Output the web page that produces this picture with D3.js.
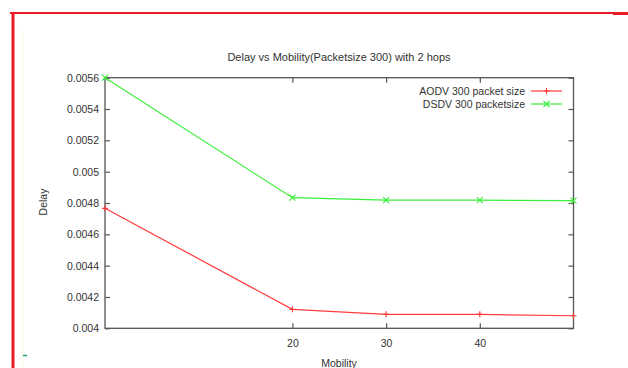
<!DOCTYPE html>
<html>
<head>
<meta charset="utf-8">
<script src="https://cdn.jsdelivr.net/npm/d3@7"></script>
<style>
  html, body { margin: 0; padding: 0; background: #fff; }
  svg { display: block; }
  text { font-family: "Liberation Sans", Arial, sans-serif; fill: #333; }
</style>
</head>
<body>
<svg id="chart" width="628" height="368"></svg>
<script>
// Mobility values (x) and average delay per protocol
const mobility = [0, 20, 30, 40, 50];
const aodvDelay = [0.004766, 0.004121, 0.004089, 0.004089, 0.00408];
const dsdvDelay = [0.0056, 0.004834, 0.004818, 0.004818, 0.004815];
const xTicks = [20, 30, 40];
const yTicks = [0.004, 0.0042, 0.0044, 0.0046, 0.0048, 0.005, 0.0052, 0.0054, 0.0056];
const seriesNames = ["AODV 300 packet size", "DSDV 300 packetsize"];
const titleText = "Delay vs Mobility(Packetsize 300) with 2 hops";

const svg = d3.select("#chart");
const plot = { left: 105, right: 573.5, top: 77.7, bottom: 328.3 };

const x = d3.scaleLinear().domain([0, 50]).range([plot.left, plot.right]);
const y = d3.scaleLinear().domain([0.004, 0.0056]).range([plot.bottom, plot.top]);

// surrounding page frame
svg.append("line").attr("x1", 10).attr("x2", 628).attr("y1", 13).attr("y2", 13)
  .attr("stroke", "#ea1c24").attr("stroke-width", 2);
svg.append("line").attr("x1", 613).attr("x2", 628).attr("y1", 13.5).attr("y2", 13.5)
  .attr("stroke", "#ea1c24").attr("stroke-width", 3);
svg.append("line").attr("x1", 13).attr("x2", 13).attr("y1", 12).attr("y2", 368)
  .attr("stroke", "#ea1c24").attr("stroke-width", 3);
svg.append("line").attr("x1", 22.5).attr("x2", 22.5).attr("y1", 30).attr("y2", 368)
  .attr("stroke", "#fbf3c4").attr("stroke-width", 1).attr("stroke-dasharray", "2,1");
svg.append("line").attr("x1", 23).attr("x2", 27).attr("y1", 355.5).attr("y2", 355.5)
  .attr("stroke", "#1f9e84").attr("stroke-width", 1.5);

// title
svg.append("text").attr("x", 339).attr("y", 60.5).attr("text-anchor", "middle")
  .attr("font-size", 11).text(titleText);

// axes (ticks pointing inward)
const axisColor = "#555";
const gL = svg.append("g").attr("transform", `translate(${plot.left},0)`)
  .call(d3.axisLeft(y).tickValues(yTicks).tickSize(-5).tickSizeOuter(0).tickPadding(6)
    .tickFormat(d => d3.format("")(+d.toPrecision(2))));
const gR = svg.append("g").attr("transform", `translate(${plot.right},0)`)
  .call(d3.axisRight(y).tickValues(yTicks).tickSize(-5).tickSizeOuter(0).tickFormat(""));
const gB = svg.append("g").attr("transform", `translate(0,${plot.bottom})`)
  .call(d3.axisBottom(x).tickValues(xTicks).tickSize(-5).tickSizeOuter(0).tickPadding(11));
const gT = svg.append("g").attr("transform", `translate(0,${plot.top})`)
  .call(d3.axisTop(x).tickValues(xTicks).tickSize(-5).tickSizeOuter(0).tickFormat(""));
[gL, gR, gB, gT].forEach(g => {
  g.select(".domain").remove();
  g.selectAll(".tick line").attr("stroke", axisColor).attr("stroke-width", 1.2);
  g.selectAll(".tick text").attr("font-size", 10.5).attr("fill", "#333")
    .attr("font-family", "'Liberation Sans', Arial, sans-serif");
});

// frame of the plot area
svg.append("rect").attr("x", plot.left).attr("y", plot.top)
  .attr("width", plot.right - plot.left).attr("height", plot.bottom - plot.top)
  .attr("fill", "none").attr("stroke", axisColor).attr("stroke-width", 1.3);

// axis titles
svg.append("text").attr("transform", "translate(47,202) rotate(-90)")
  .attr("text-anchor", "middle").attr("font-size", 10.5).text("Delay");
svg.append("text").attr("x", 339).attr("y", 367).attr("text-anchor", "middle")
  .attr("font-size", 10.5).text("Mobility");

// series
const series = [
  { name: seriesNames[0], values: aodvDelay, color: "#ff3a3a", marker: "plus" },
  { name: seriesNames[1], values: dsdvDelay, color: "#3aef3a", marker: "cross" }
];
const line = d3.line().x((d, i) => x(mobility[i])).y(d => y(d));

function drawMarker(g, cx, cy, type, color) {
  const s = 3;
  if (type === "plus") {
    g.append("path").attr("d", `M${cx - s},${cy}H${cx + s}M${cx},${cy - s}V${cy + s}`)
      .attr("stroke", color).attr("stroke-width", 1.2).attr("fill", "none");
  } else {
    g.append("path").attr("d", `M${cx - s},${cy - s}L${cx + s},${cy + s}M${cx - s},${cy + s}L${cx + s},${cy - s}`)
      .attr("stroke", color).attr("stroke-width", 1.2).attr("fill", "none");
  }
}

series.forEach(s => {
  const g = svg.append("g");
  g.append("path").datum(s.values).attr("d", line)
    .attr("fill", "none").attr("stroke", s.color).attr("stroke-width", 1.2);
  s.values.forEach((v, i) => drawMarker(g, x(mobility[i]), y(v), s.marker, s.color));
});

// legend
series.forEach((s, i) => {
  const ly = 91 + i * 13;
  svg.append("text").attr("x", 525).attr("y", ly + 4).attr("text-anchor", "end")
    .attr("font-size", 10.5).text(s.name);
  svg.append("line").attr("x1", 531).attr("x2", 562).attr("y1", ly).attr("y2", ly)
    .attr("stroke", s.color).attr("stroke-width", 1.2);
  drawMarker(svg, 546.5, ly, s.marker, s.color);
});
</script>
</body>
</html>
